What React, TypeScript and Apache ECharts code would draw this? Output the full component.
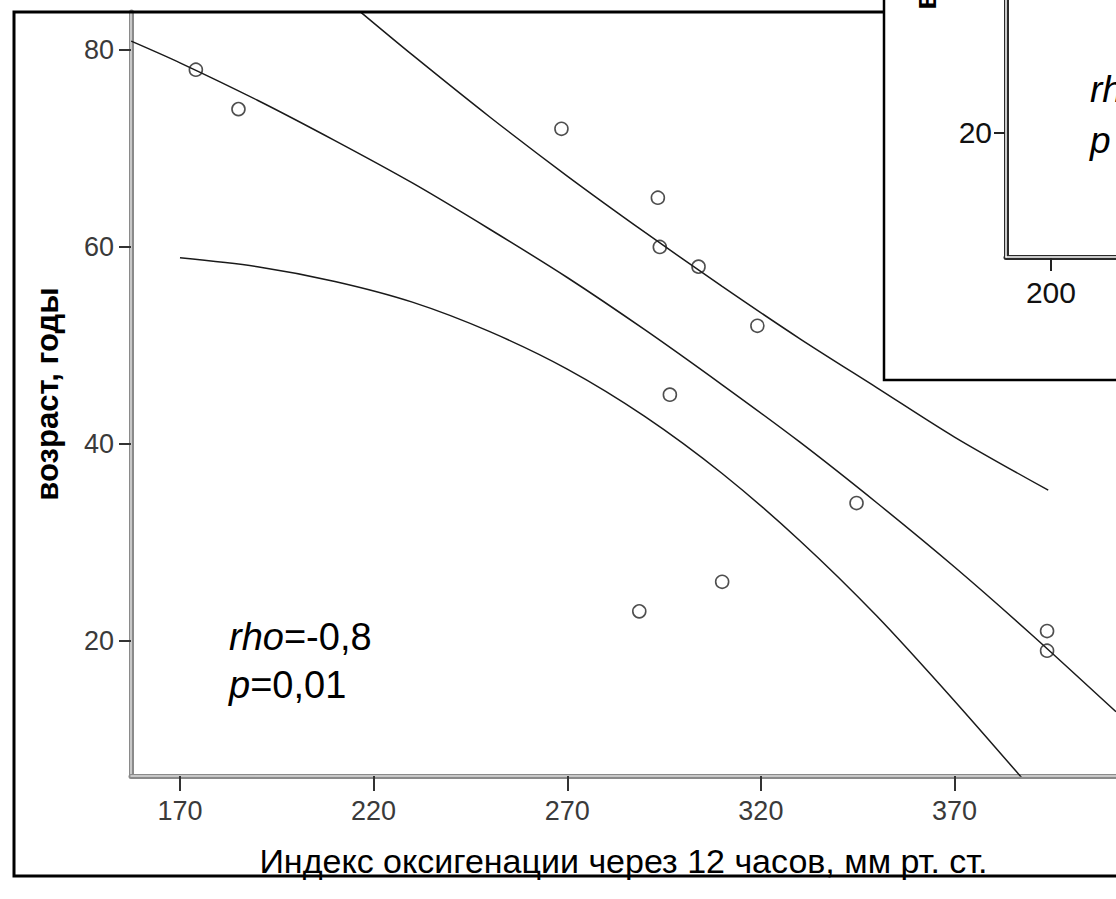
import React, { useEffect, useRef } from "react";
import * as echarts from "echarts";

// ---- data ----
const xTicks = [170, 220, 270, 320, 370];
const yTicks = [20, 40, 60, 80];
const oxygenIndex = [174.1, 185.1, 268.5, 293.4, 293.9, 296.5, 303.9, 319.1, 288.6, 310.0, 344.7, 393.9, 393.9];
const ageYears = [78, 74, 72, 65, 60, 45, 58, 52, 23, 26, 34, 21, 19];

// fitted line (middle)
const fitX = [157.4, 170, 190, 210, 230, 250, 270, 290, 310, 330, 350, 370, 390, 411.7];
const fitY = [80.9, 78.7, 74.9, 70.8, 66.5, 61.8, 56.9, 51.6, 46.0, 40.2, 34.0, 27.5, 20.6, 12.8];

// upper confidence curve
const upperX = [216.5, 230, 250, 270, 290, 310, 330, 350, 370, 394.2];
const upperY = [83.9, 79.5, 73.2, 67.2, 61.5, 56.0, 50.7, 45.7, 40.7, 35.3];

// lower confidence curve
const lowerX = [170, 190, 210, 230, 250, 270, 290, 310, 330, 350, 370, 390];
const lowerY = [58.9, 58.0, 56.5, 54.4, 51.4, 47.6, 42.8, 37.0, 30.2, 22.5, 13.9, 4.9];

const insetXTicks = [200];
const insetYTicks = [20];

const xTitle = "Индекс оксигенации через 12 часов, мм рт. ст.";
const yTitle = "возраст, годы";

const FONT = "'Liberation Sans', Arial, sans-serif";

function zip(a: number[], b: number[]) {
  return a.map((v, i) => [v, b[i]]);
}

export default function App() {
  const ref = useRef<HTMLDivElement>(null);
  useEffect(() => {
    if (!ref.current) return;
    const chart = echarts.init(ref.current, undefined, { renderer: "svg" });
    const lineStyle = { color: "#1a1a1a", width: 1.5 };
    const curve = (xs: number[], ys: number[]) => ({
      type: "line",
      xAxisIndex: 0,
      yAxisIndex: 0,
      data: zip(xs, ys),
      showSymbol: false,
      smooth: 0.3,
      clip: true,
      lineStyle,
      silent: true,
      z: 3,
    });
    const option: any = {
      animation: false,
      backgroundColor: "#ffffff",
      textStyle: { fontFamily: FONT },
      grid: [
        { left: 131, top: 12, right: 0, bottom: 123 },
        { left: 1006, top: 0, right: 0, bottom: 642 },
      ],
      xAxis: [
        {
          gridIndex: 0,
          type: "value",
          min: 157.35,
          max: 411.7,
          axisLine: { show: true, onZero: false, lineStyle: { color: "#8a8a8a", width: 5 } },
          axisTick: { show: true, customValues: xTicks, length: 15, lineStyle: { color: "#333", width: 2 } },
          axisLabel: { customValues: xTicks, margin: 21, fontSize: 27, color: "#3a3a3a", fontFamily: FONT },
          splitLine: { show: false },
          name: xTitle,
          nameLocation: "middle",
          nameGap: 68,
          nameTextStyle: { fontSize: 34, color: "#000", fontFamily: FONT },
        },
        {
          gridIndex: 0,
          type: "value",
          position: "bottom",
          min: 157.35,
          max: 411.7,
          axisLine: { show: true, onZero: false, lineStyle: { color: "#dcdcdc", width: 1.5 } },
          axisTick: { show: false },
          axisLabel: { show: false },
          splitLine: { show: false },
        },
        {
          gridIndex: 1,
          type: "value",
          min: 185,
          max: 221.7,
          z: 60,
          axisLine: { show: true, onZero: false, lineStyle: { color: "#2a2a2a", width: 5 } },
          axisTick: { show: true, customValues: insetXTicks, length: 14, lineStyle: { color: "#222", width: 2 } },
          axisLabel: { customValues: insetXTicks, margin: 20, fontSize: 30, color: "#111", fontFamily: FONT },
          splitLine: { show: false },
        },
        {
          gridIndex: 1,
          type: "value",
          position: "bottom",
          min: 185,
          max: 221.7,
          z: 61,
          axisLine: { show: true, onZero: false, lineStyle: { color: "#ffffff", width: 1.5 } },
          axisTick: { show: false },
          axisLabel: { show: false },
          splitLine: { show: false },
        },
      ],
      yAxis: [
        {
          gridIndex: 0,
          type: "value",
          min: 6.28,
          max: 83.86,
          axisLine: { show: true, onZero: false, lineStyle: { color: "#8a8a8a", width: 5 } },
          axisTick: { show: true, customValues: yTicks, length: 12, lineStyle: { color: "#333", width: 2 } },
          axisLabel: { customValues: yTicks, margin: 17, fontSize: 27, color: "#3a3a3a", fontFamily: FONT },
          splitLine: { show: false },
          name: yTitle,
          nameLocation: "middle",
          nameRotate: 90,
          nameGap: 68,
          nameTextStyle: { fontSize: 31, fontWeight: "bold", color: "#000", fontFamily: FONT },
        },
        {
          gridIndex: 0,
          type: "value",
          position: "left",
          min: 6.28,
          max: 83.86,
          axisLine: { show: true, onZero: false, lineStyle: { color: "#dcdcdc", width: 1.5 } },
          axisTick: { show: false },
          axisLabel: { show: false },
          splitLine: { show: false },
        },
        {
          gridIndex: 1,
          type: "value",
          min: 4.5,
          max: 36.6,
          z: 60,
          axisLine: { show: true, onZero: false, lineStyle: { color: "#2a2a2a", width: 5 } },
          axisTick: { show: true, customValues: insetYTicks, length: 12, lineStyle: { color: "#222", width: 2 } },
          axisLabel: { customValues: insetYTicks, margin: 14, fontSize: 30, color: "#111", fontFamily: FONT },
          splitLine: { show: false },
        },
        {
          gridIndex: 1,
          type: "value",
          position: "left",
          min: 4.5,
          max: 36.6,
          z: 61,
          axisLine: { show: true, onZero: false, lineStyle: { color: "#ffffff", width: 1.5 } },
          axisTick: { show: false },
          axisLabel: { show: false },
          splitLine: { show: false },
        },
      ],
      series: [
        curve(fitX, fitY),
        curve(upperX, upperY),
        curve(lowerX, lowerY),
        {
          type: "scatter",
          xAxisIndex: 0,
          yAxisIndex: 0,
          data: zip(oxygenIndex, ageYears),
          symbol: "circle",
          symbolSize: 13,
          itemStyle: { color: "rgba(0,0,0,0)", borderColor: "#222", borderWidth: 1.6 },
          z: 4,
        },
      ],
      graphic: [
        {
          type: "rect",
          z: 40,
          shape: { x: 14, y: 12, width: 1400, height: 864 },
          style: { fill: "none", stroke: "#000", lineWidth: 3 },
          silent: true,
        },
        {
          type: "text",
          z: 41,
          x: 229,
          y: 661,
          style: {
            text: "{i|rho}{n|=-0,8}\n{i|p}{n|=0,01}",
            fontFamily: FONT,
            fontSize: 38,
            lineHeight: 48,
            fill: "#000",
            rich: {
              i: { fontStyle: "italic", fontSize: 38, fontFamily: FONT, lineHeight: 48 },
              n: { fontSize: 38, fontFamily: FONT, lineHeight: 48 },
            },
            verticalAlign: "middle",
          },
        },
        {
          type: "rect",
          z: 50,
          shape: { x: 884, y: -10, width: 400, height: 390 },
          style: { fill: "#fff", stroke: "#000", lineWidth: 2.5 },
          silent: true,
        },
        {
          type: "text",
          z: 62,
          x: 925,
          y: 10,
          rotation: Math.PI / 2,
          style: {
            text: yTitle,
            fontFamily: FONT,
            fontSize: 31,
            fontWeight: "bold",
            fill: "#000",
            align: "left",
            verticalAlign: "middle",
          },
        },
        {
          type: "text",
          z: 62,
          x: 1090,
          y: 115,
          style: {
            text: "{i|rho}\n{i|p}",
            fontFamily: FONT,
            fontSize: 37,
            lineHeight: 51,
            fill: "#000",
            rich: { i: { fontStyle: "italic", fontSize: 37, fontFamily: FONT, lineHeight: 51 } },
            verticalAlign: "middle",
          },
        },
      ],
    };
    chart.setOption(option);
    return () => chart.dispose();
  }, []);
  return (
    <div
      ref={ref}
      style={{ position: "absolute", left: 0, top: 0, width: 1116, height: 899, background: "#fff" }}
    />
  );
}
